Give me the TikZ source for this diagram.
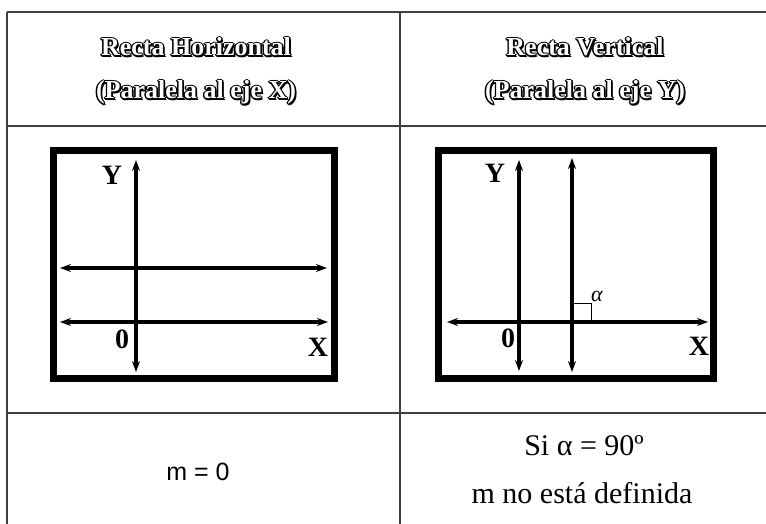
\documentclass[tikz,border=0pt]{standalone}
\usepackage{fontspec}
\setmainfont{Liberation Serif}
\newfontfamily\sansf{Liberation Sans}
\usetikzlibrary{arrows.meta}
\tikzset{
  gridline/.style={draw=black!75, line width=1.3},
  frame/.style={draw=black, line width=7},
  axis/.style={draw=black, line width=3.4, {Stealth[length=11,width=8]}-{Stealth[length=11,width=8]}},
  hdr/.style={inner sep=0, anchor=base, font=\bfseries\fontsize{26}{26}\selectfont},
  lbl/.style={inner sep=0, font=\bfseries\fontsize{28}{28}\selectfont},
  body/.style={inner sep=0, anchor=base, font=\fontsize{30}{30}\selectfont},
}
\newcommand\outtext[3]{%
  \foreach \a in {0,45,...,315} {\node[hdr,text=black,shift={(\a:1.4)}] at (#1) {#3};}
  \node[hdr,text=black,shift={(1.8,1.8)}] at (#1) {#3};
  \node[hdr,text=white] (#2) at (#1) {#3};
}
\begin{document}
\begin{tikzpicture}[x=1pt,y=-1pt]
\useasboundingbox (0,0) rectangle (766,524);
% table
\coordinate (tl) at (7,12);
\coordinate (tr) at (766,12);
\coordinate (hl) at (7,126);
\coordinate (hr) at (766,126);
\coordinate (bl) at (7,413);
\coordinate (br) at (766,413);
\coordinate (ml) at (7,524);
\coordinate (mt) at (400,12);
\coordinate (mb) at (400,524);
\draw[gridline] (tl) -- (tr);
\draw[gridline] (hl) -- (hr);
\draw[gridline] (bl) -- (br);
\draw[gridline] (tl) -- (ml);
\draw[gridline] (mt) -- (mb);
% headers
\outtext{196,56}{h1}{Recta Horizontal}
\outtext{196,99}{h2}{(Paralela al eje X)}
\outtext{585,56}{h3}{Recta Vertical}
\outtext{585,99}{h4}{(Paralela al eje Y)}
% left frame
\draw[frame] (53.5,150.5) rectangle (334.5,378.5);
\coordinate (ly1) at (136,160);
\coordinate (ly2) at (136,372);
\coordinate (lh1) at (60,268);
\coordinate (lh2) at (327,268);
\coordinate (lx1) at (60,322);
\coordinate (lx2) at (328,322);
\draw[axis] (ly1) -- (ly2);
\draw[axis] (lh1) -- (lh2);
\draw[axis] (lx1) -- (lx2);
\node[lbl] (lY) at (112,175) {Y};
\node[lbl] (l0) at (122,339) {0};
\node[lbl] (lX) at (318,347) {X};
% right frame
\draw[frame] (438.5,150.5) rectangle (713.5,378.5);
\coordinate (ry1) at (519,160);
\coordinate (ry2) at (519,371);
\coordinate (rv1) at (572,158);
\coordinate (rv2) at (572,372);
\coordinate (rx1) at (447,322);
\coordinate (rx2) at (708,322);
\draw[axis] (ry1) -- (ry2);
\draw[axis] (rv1) -- (rv2);
\draw[axis] (rx1) -- (rx2);
\draw[line width=1] (572,303) rectangle (591,322);
\node[lbl] (rY) at (495,173) {Y};
\node[lbl] (r0) at (508,338) {0};
\node[lbl] (rX) at (699,346) {X};
\node[inner sep=0, font=\itshape\fontsize{22}{22}\selectfont] (ra) at (597,296) {α};
% bottom row
\node[inner sep=0, anchor=base, font=\sansf\fontsize{25}{25}\selectfont] (m0) at (198,480) {m = 0};
\node[body] (si) at (584,455) {Si α = 90º};
\node[body] (nd) at (582,503) {m no está definida};
\end{tikzpicture}
\end{document}
